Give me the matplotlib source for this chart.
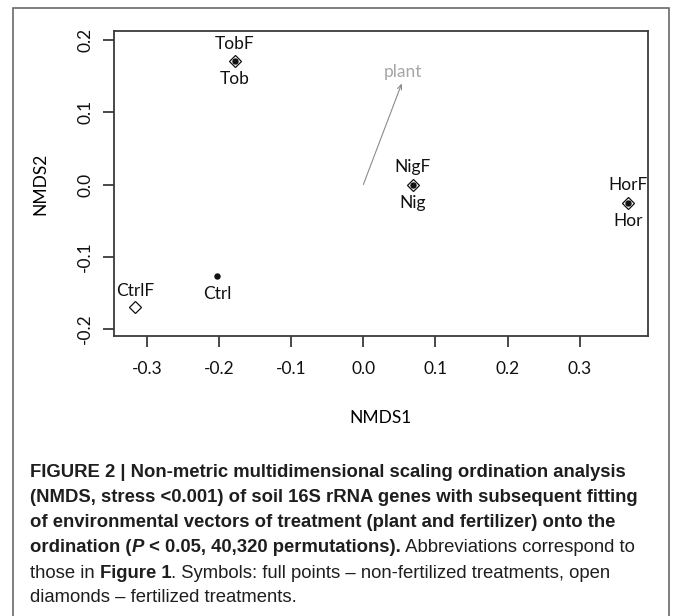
import matplotlib
matplotlib.use("Agg")
import matplotlib.pyplot as plt
from matplotlib.patches import Rectangle

plt.rcParams["font.family"] = ["Lato", "DejaVu Sans"]

# NMDS scores (non-fertilized: full points, fertilized: open diamonds)
plain_names = ["Ctrl", "Tob", "Nig", "Hor"]
plain_x = [-0.203, -0.178, 0.0685, 0.3675]
plain_y = [-0.126, 0.171, 0.0, -0.025]

fert_names = ["CtrlF", "TobF", "NigF", "HorF"]
fert_x = [-0.317, -0.178, 0.0685, 0.3675]
fert_y = [-0.169, 0.171, 0.0, -0.025]

vector_name = "plant"
vector_xy = (0.0533, 0.140)

x_ticks = [-0.3, -0.2, -0.1, 0.0, 0.1, 0.2, 0.3]
y_ticks = [-0.2, -0.1, 0.0, 0.1, 0.2]

W, H = 673, 616
fig = plt.figure(figsize=(W / 100, H / 100), dpi=100)
fig.patch.set_facecolor("white")

# outer figure frame
fig.add_artist(Rectangle((13 / W, -0.02), (669 - 13) / W, (H - 8) / H + 0.02,
                         transform=fig.transFigure, fill=False,
                         edgecolor="#6a6a6a", linewidth=1.2))

ax = fig.add_axes([114 / W, 1 - 336 / H, (648 - 114) / W, (336 - 31) / H])
ax.set_xlim(-0.3458, 0.3947)
ax.set_ylim(-0.2097, 0.2125)

for s in ax.spines.values():
    s.set_color("#3a3a3a")
    s.set_linewidth(1.3)

fs = 12.5
ax.set_xticks(x_ticks)
ax.set_xticklabels([f"{v:.1f}" for v in x_ticks])
ax.set_yticks(y_ticks)
ax.set_yticklabels([f"{v:.1f}" for v in y_ticks], rotation=90, va="center")
ax.tick_params(axis="both", direction="out", length=8, width=1.3,
               color="#3a3a3a", labelsize=fs, labelcolor="#111111")
ax.tick_params(axis="x", pad=10)
ax.tick_params(axis="y", pad=7)

ax.set_xlabel("NMDS1", fontsize=fs, va="center")
ax.xaxis.set_label_coords(0.5, -(418 - 336) / 305)
ax.set_ylabel("NMDS2", fontsize=fs, va="center")
ax.yaxis.set_label_coords((40 - 114) / 534, 0.5)

# environmental vector
ax.annotate("", xy=vector_xy, xytext=(0, 0),
            arrowprops=dict(arrowstyle="->,head_length=0.35,head_width=0.15",
                            color="#8c8c8c", lw=0.8, shrinkA=0, shrinkB=0))
ax.annotate(vector_name, xy=vector_xy, xytext=(1, 8.5), textcoords="offset points",
            ha="center", va="center", fontsize=fs, color="#a6a6a6")

# points
ax.plot(fert_x, fert_y, linestyle="", marker="D", markersize=6.2,
        markerfacecolor="white", markeredgecolor="#111111", markeredgewidth=0.9)
ax.plot(plain_x, plain_y, linestyle="", marker="o", markersize=3.6,
        color="#111111")

for name, x, y in zip(plain_names, plain_x, plain_y):
    ax.annotate(name, xy=(x, y), xytext=(0, -13), textcoords="offset points",
                ha="center", va="center", fontsize=fs, color="#111111")
for name, x, y in zip(fert_names, fert_x, fert_y):
    dy = 11 if name == "CtrlF" else 12.5
    ax.annotate(name, xy=(x, y), xytext=(0, dy), textcoords="offset points",
                ha="center", va="center", fontsize=fs, color="#111111")

# caption
cap_family = ["Liberation Sans Narrow", "Liberation Sans", "DejaVu Sans"]
cap_color = "#1e1e1e"
lines = [
    [("FIGURE 2 | Non-metric multidimensional scaling ordination analysis", "bold", "normal")],
    [("(NMDS, stress <0.001) of soil 16S rRNA genes with subsequent fitting", "bold", "normal")],
    [("of environmental vectors of treatment (plant and fertilizer) onto the", "bold", "normal")],
    [("ordination (", "bold", "normal"), ("P", "bold", "italic"),
     (" < 0.05, 40,320 permutations).", "bold", "normal"),
     (" Abbreviations correspond to", "normal", "normal")],
    [("those in ", "normal", "normal"), ("Figure 1", "bold", "normal"),
     (". Symbols: full points \u2013 non-fertilized treatments, open", "normal", "normal")],
    [("diamonds \u2013 fertilized treatments.", "normal", "normal")],
]
line_y = [472.5, 497.5, 522.5, 548, 573, 598]

renderer = fig.canvas.get_renderer()
probe = fig.text(0, 0, lines[0][0][0], fontsize=10, family=cap_family,
                 fontweight="bold")
probe_w = probe.get_window_extent(renderer).width
probe.remove()
cap_size = 10 * (629 - 30) / probe_w

for parts, yy in zip(lines, line_y):
    x_px = 30
    for text, weight, style in parts:
        t = fig.text(x_px / W, 1 - yy / H, text, fontsize=cap_size,
                     family=cap_family, fontweight=weight, fontstyle=style,
                     color=cap_color, va="center", ha="left")
        x_px += t.get_window_extent(renderer).width

fig.savefig("out.png", dpi=100, facecolor="white")
